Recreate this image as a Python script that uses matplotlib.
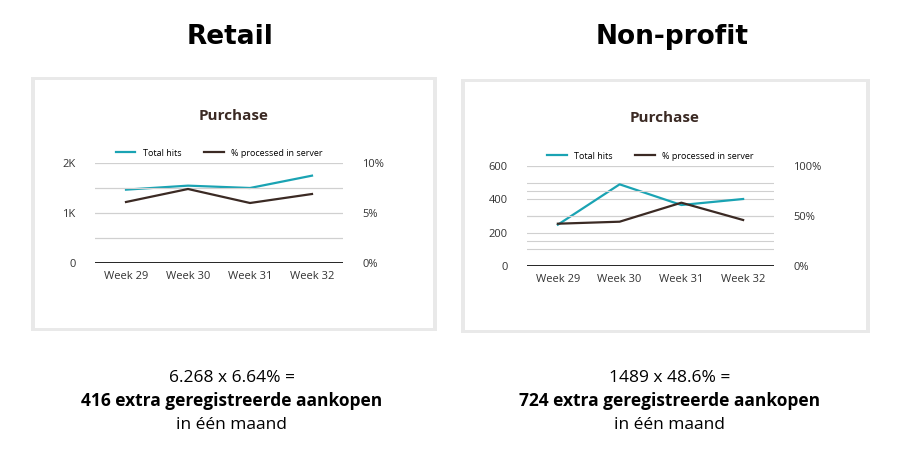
import matplotlib
matplotlib.use("Agg")
import matplotlib.pyplot as plt
from matplotlib.patches import Rectangle
from matplotlib.lines import Line2D
from matplotlib.ticker import MultipleLocator

plt.rcParams["font.family"] = "Open Sans"

weeks = ["Week 29", "Week 30", "Week 31", "Week 32"]
retail_hits = [1467, 1547, 1500, 1747]
retail_pct = [6.1, 7.4, 6.0, 6.9]
np_hits = [248, 490, 366, 402]
np_pct = [42.3, 44.3, 63.3, 46.0]

TEAL = "#1aa3b3"
DARK = "#3b2a24"

fig = plt.figure(figsize=(9, 4.65), dpi=100)
W, H = 900, 465

def card(x0, y0, x1, y1):
    fig.patches.append(Rectangle((x0/W - 0.004, 1 - (y1+3)/H), (x1-x0)/W + 0.008, (y1-y0+6)/H,
                                 transform=fig.transFigure, facecolor="#e9e9e9", edgecolor="none", zorder=0))
    fig.patches.append(Rectangle((x0/W, 1 - y1/H), (x1-x0)/W, (y1-y0)/H,
                                 transform=fig.transFigure, facecolor="white", edgecolor="none", zorder=1))

card(35, 80, 433, 328)
card(465, 82, 866, 330)

def panel(rect, hits, pct, lmax, lstep, lminor, ltlabels, rmax, rminor, rtlabels, title_y, cx):
    ax = fig.add_axes(rect)
    ax.set_zorder(3)
    ax.patch.set_alpha(0)
    x = range(len(weeks))
    ax.set_ylim(0, lmax)
    ax.set_xlim(-0.5, 3.5)
    for v in range(0, lmax + 1, lminor):
        if v > 0:
            ax.axhline(v, color="#d0d0d0", lw=0.8, zorder=1)
    ax2 = ax.twinx()
    ax2.set_ylim(0, rmax)
    v = rminor
    while v <= rmax + 1e-9:
        ax2.axhline(v, color="#d0d0d0", lw=0.8, zorder=1)
        v += rminor
    ax.axhline(0, color="black", lw=1.2, zorder=2)
    ax.plot(x, hits, color=TEAL, lw=1.6, zorder=4)
    ax2.plot(x, pct, color=DARK, lw=1.6, zorder=4)
    ax.set_yticks([i * lstep for i in range(len(ltlabels))])
    ax.set_yticklabels(ltlabels)
    ax2.set_yticks([i * rmax / (len(rtlabels) - 1) for i in range(len(rtlabels))])
    ax2.set_yticklabels(rtlabels)
    ax.set_xticks(list(x))
    ax.set_xticklabels(weeks)
    for a in (ax, ax2):
        for s in a.spines.values():
            s.set_visible(False)
        a.tick_params(length=0, labelsize=8, colors="#333333")
    ax.tick_params(axis="y", pad=14)
    ax2.tick_params(axis="y", pad=14)
    ax.tick_params(axis="x", pad=6)
    fig.text(cx / W, 1 - title_y / H, "Purchase", ha="center", va="center",
             fontsize=11, fontweight="bold", color=DARK)
    handles = [Line2D([], [], color=TEAL, lw=1.6), Line2D([], [], color=DARK, lw=1.6)]
    ax.legend(handles, ["Total hits", "% processed in server"], loc="lower center",
              bbox_to_anchor=(0.5, 1.0), ncol=2, frameon=False, fontsize=6.5,
              handlelength=2.2, columnspacing=2.5, borderaxespad=0.2)

panel([95/W, 1 - 263/H, 248/W, 100/H], retail_hits, retail_pct, 2000, 1000, 500,
      ["0", "1K", "2K"], 10, 2.5, ["0%", "5%", "10%"], 116, 234)
panel([527/W, 1 - 266/H, 247/W, 100/H], np_hits, np_pct, 600, 200, 100,
      ["0", "200", "400", "600"], 100, 25, ["0%", "50%", "100%"], 118, 665)

for cx, t in ((230, "Retail"), (672, "Non-profit")):
    fig.text(cx / W, 1 - 37 / H, t, ha="center", va="center", fontsize=19,
             fontweight="bold", color="black", fontfamily="DejaVu Sans")

for cx, l1, l2 in ((232, "6.268 x 6.64% =", "416 extra geregistreerde aankopen"),
                   (670, "1489 x 48.6% =", "724 extra geregistreerde aankopen")):
    fig.text(cx / W, 1 - 378 / H, l1, ha="center", va="center", fontsize=12.5)
    fig.text(cx / W, 1 - 401 / H, l2, ha="center", va="center", fontsize=12.5, fontweight="bold")
    fig.text(cx / W, 1 - 425 / H, "in één maand", ha="center", va="center", fontsize=12.5)

fig.savefig("out.png", dpi=100, facecolor="white")
